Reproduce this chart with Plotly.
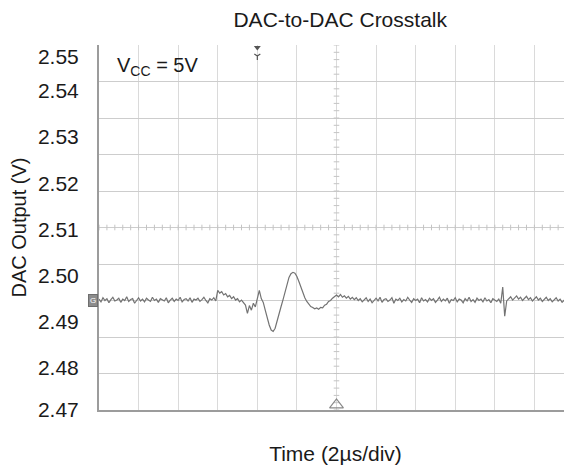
import plotly.graph_objects as go

# ---------------- data ----------------
sample_step_div = 0.05  # time step between samples, in divisions (2 µs/div)

dac_output_v = [
    # 0.00 - 2.95 div : quiet baseline
    2.4949, 2.4943, 2.4952, 2.4946, 2.4950, 2.4941, 2.4948, 2.4953, 2.4945, 2.4947,
    2.4951, 2.4942, 2.4949, 2.4946, 2.4954, 2.4944, 2.4948, 2.4950, 2.4940, 2.4947,
    2.4952, 2.4945, 2.4949, 2.4943, 2.4951, 2.4947, 2.4944, 2.4953, 2.4946, 2.4949,
    2.4942, 2.4950, 2.4948, 2.4945, 2.4952, 2.4941, 2.4947, 2.4951, 2.4944, 2.4949,
    2.4946, 2.4953, 2.4943, 2.4948, 2.4950, 2.4945, 2.4952, 2.4942, 2.4949, 2.4947,
    2.4951, 2.4944, 2.4948, 2.4953, 2.4946, 2.4941, 2.4950, 2.4947, 2.4952, 2.4945,
    # 3.00 - 3.65 div : step up then slow decay
    2.4968, 2.4962, 2.4965, 2.4958, 2.4961, 2.4954, 2.4957, 2.4950, 2.4954, 2.4947,
    2.4950, 2.4943, 2.4947, 2.4941,
    # 3.70 - 6.50 div : crosstalk glitch and ringing
    2.4936, 2.4918, 2.4935, 2.4925, 2.4940, 2.4932, 2.4952, 2.4968, 2.4950, 2.4942,
    2.4925, 2.4908, 2.4893, 2.4882, 2.4879, 2.4886, 2.4900, 2.4917, 2.4933, 2.4948,
    2.4965, 2.4983, 2.4996, 2.5004, 2.5007, 2.5005, 2.4998, 2.4987, 2.4974, 2.4961,
    2.4952, 2.4944, 2.4938, 2.4933, 2.4931, 2.4928, 2.4930, 2.4927, 2.4931, 2.4930,
    2.4936, 2.4938, 2.4944, 2.4946, 2.4951, 2.4955, 2.4958, 2.4954, 2.4959, 2.4953,
    2.4956, 2.4951, 2.4955, 2.4949, 2.4953, 2.4948, 2.4952,
    # 6.55 - 10.10 div : baseline
    2.4946, 2.4950, 2.4943, 2.4948, 2.4952, 2.4944, 2.4949, 2.4941, 2.4947, 2.4951,
    2.4945, 2.4953, 2.4942, 2.4948, 2.4950, 2.4944, 2.4947, 2.4952, 2.4940, 2.4949,
    2.4946, 2.4951, 2.4943, 2.4948, 2.4945, 2.4953, 2.4947, 2.4942, 2.4950, 2.4946,
    2.4949, 2.4941, 2.4952, 2.4945, 2.4948, 2.4943, 2.4951, 2.4946, 2.4950, 2.4942,
    2.4947, 2.4953, 2.4944, 2.4949, 2.4945, 2.4951, 2.4940, 2.4948, 2.4946, 2.4952,
    2.4943, 2.4949, 2.4947, 2.4941, 2.4950, 2.4945, 2.4953, 2.4944, 2.4948, 2.4942,
    2.4951, 2.4946, 2.4949, 2.4943, 2.4952, 2.4945, 2.4948, 2.4941, 2.4950, 2.4946,
    2.4944, 2.4949,
    # 10.15 - 10.30 div : small spike
    2.4940, 2.4975, 2.4912, 2.4945,
    # 10.35 - 11.95 div : baseline
    2.4950, 2.4954, 2.4947, 2.4952, 2.4956, 2.4949, 2.4953, 2.4946, 2.4951, 2.4955,
    2.4948, 2.4952, 2.4945, 2.4950, 2.4954, 2.4947, 2.4951, 2.4944, 2.4949, 2.4953,
    2.4946, 2.4950, 2.4943, 2.4948, 2.4952, 2.4945, 2.4949, 2.4942, 2.4947, 2.4951,
    2.4944, 2.4948, 2.4946,
]
time_div = [i * sample_step_div for i in range(len(dac_output_v))]

y_tick_values = [2.471, 2.48, 2.49, 2.50, 2.51, 2.52, 2.53, 2.54, 2.5473]
y_tick_labels = ["2.47", "2.48", "2.49", "2.50", "2.51", "2.52", "2.53", "2.54", "2.55"]
y_range_v = [2.4709, 2.5499]

n_hdiv = 12          # horizontal divisions visible
n_vdiv = 10          # vertical divisions
x_range_div = [0, 11.95]
trigger_div = 6      # trigger position (bottom marker, centre line)
marker_top_div = 4   # top cursor marker

FONT = "Liberation Sans, Arial, sans-serif"
GRID_H = "#cdcdcd"
GRID_V = "#dadada"
BORDER = "#9c9c9c"
TRACE = "#737373"

# the page body has an 8 px margin, so the figure is sized to fit the window
PAGE_OFFSET = 8
FIG_W, FIG_H = 572 - PAGE_OFFSET, 468 - PAGE_OFFSET

fig = go.Figure()

# scope trace
fig.add_trace(go.Scatter(
    x=time_div, y=dac_output_v, mode="lines",
    line=dict(color=TRACE, width=1.2),
    xaxis="x", yaxis="y2", hoverinfo="skip", showlegend=False,
))

# minor ticks on the centre cross-hair
fig.add_trace(go.Scatter(
    x=[k / 5 for k in range(n_hdiv * 5 + 1)], y=[n_vdiv / 2] * (n_hdiv * 5 + 1),
    mode="markers", marker=dict(symbol="line-ns", size=4, line=dict(width=1, color="#c4c4c4")),
    xaxis="x", yaxis="y", hoverinfo="skip", showlegend=False,
))
fig.add_trace(go.Scatter(
    x=[trigger_div] * (n_vdiv * 5 + 1), y=[k / 5 for k in range(n_vdiv * 5 + 1)],
    mode="markers", marker=dict(symbol="line-ew", size=4, line=dict(width=1, color="#c4c4c4")),
    xaxis="x", yaxis="y", hoverinfo="skip", showlegend=False,
))
# trigger position marker (bottom)
fig.add_trace(go.Scatter(
    x=[trigger_div], y=[0.14], mode="markers",
    marker=dict(symbol="triangle-up-open", size=12, color="#8a8a8a", line=dict(width=1.2)),
    xaxis="x", yaxis="y", hoverinfo="skip", showlegend=False, cliponaxis=False,
))
# cursor marker (top)
fig.add_trace(go.Scatter(
    x=[marker_top_div], y=[9.93], mode="markers",
    marker=dict(symbol="triangle-down", size=6, color="#555555"),
    xaxis="x", yaxis="y", hoverinfo="skip", showlegend=False, cliponaxis=False,
))
fig.add_trace(go.Scatter(
    x=[marker_top_div], y=[9.7], mode="markers",
    marker=dict(symbol="y-down", size=5, line=dict(width=1.2, color="#555555")),
    xaxis="x", yaxis="y", hoverinfo="skip", showlegend=False, cliponaxis=False,
))

fig.update_layout(
    width=FIG_W, height=FIG_H,
    margin=dict(l=99 - PAGE_OFFSET, r=0, t=45 - PAGE_OFFSET, b=58),
    paper_bgcolor="white", plot_bgcolor="white",
    font=dict(family=FONT, color="#1a1a1a", size=21),
    title=dict(text="DAC-to-DAC Crosstalk", x=0.51, xref="paper", xanchor="center",
               y=1 - (20 - PAGE_OFFSET) / FIG_H, yref="container", yanchor="middle",
               font=dict(family=FONT, size=21, color="#1a1a1a")),
    xaxis=dict(
        range=x_range_div, tick0=0, dtick=1, showgrid=True, gridcolor=GRID_V, gridwidth=1,
        showticklabels=False, ticks="", zeroline=False,
        showline=True, linecolor=BORDER, linewidth=1.5,
        title=dict(text="Time (2µs/div)", standoff=36, font=dict(size=21)),
    ),
    yaxis=dict(
        range=[0, n_vdiv], tick0=0, dtick=1, showgrid=True, gridcolor=GRID_H, gridwidth=1,
        showticklabels=False, ticks="", zeroline=False,
        showline=True, linecolor=BORDER, linewidth=1.5,
    ),
    yaxis2=dict(
        overlaying="y", side="left", range=y_range_v,
        tickmode="array", tickvals=y_tick_values, ticktext=y_tick_labels,
        showgrid=False, zeroline=False, showline=False,
        ticks="outside", ticklen=15, tickcolor="rgba(0,0,0,0)",
        tickfont=dict(size=21, color="#1a1a1a"),
        title=dict(text="DAC Output (V)", standoff=16, font=dict(size=20)),
    ),
    annotations=[
        dict(text="V<sub>CC</sub> = 5V", xref="x", yref="y", x=0.4, y=9.4,
             xanchor="left", yanchor="middle", showarrow=False,
             font=dict(family=FONT, size=20, color="#1a1a1a")),
        dict(text="G", xref="paper", yref="y2", x=0, y=2.4947, xanchor="right", yanchor="middle",
             showarrow=False, bgcolor="#8c8c8c", bordercolor="#6e6e6e", borderwidth=1, borderpad=1,
             font=dict(family=FONT, size=8, color="white"), xshift=-1),
    ],
)

fig.write_html("out.html")
